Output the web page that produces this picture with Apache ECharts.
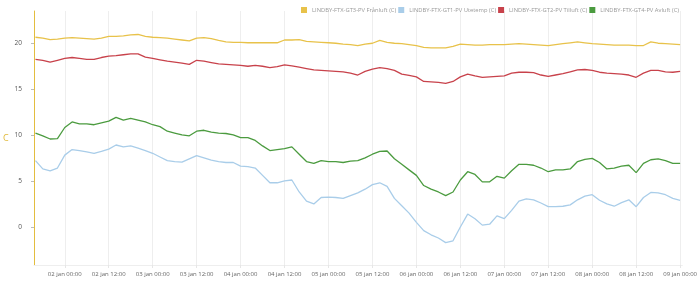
<!DOCTYPE html>
<html>
<head>
<meta charset="utf-8">
<title>LINDBY-FTX</title>
<script src="https://cdn.jsdelivr.net/npm/echarts@6/dist/echarts.min.js"></script>
<style>
  html, body { margin: 0; padding: 0; background: #fff; }
  #main { width: 700px; height: 281px; }
</style>
</head>
<body>
<div id="main"></div>
<script>
  // x = timmar från 02 jan 00:00, ett värde var 2:a timme från 01 jan 16:00 till 09 jan 00:00
  var startHour = -8;
  var stepHours = 2;

  var seriesNames = [
    'LINDBY-FTX-GT3-PV Frånluft (C)',
    'LINDBY-FTX-GT1-PV Utetemp (C)',
    'LINDBY-FTX-GT2-PV Tilluft (C)',
    'LINDBY-FTX-GT4-PV Avluft (C)'
  ];
  var seriesColors = ['#e8c24a', '#a9cde9', '#c8424b', '#4b9b3f'];

  var franluft = [
    20.6, 20.5, 20.35, 20.4, 20.5, 20.55, 20.5, 20.45, 20.4, 20.5,
    20.7, 20.7, 20.75, 20.85, 20.9, 20.7, 20.6, 20.55, 20.5, 20.4,
    20.3, 20.2, 20.5, 20.55, 20.45, 20.25, 20.1, 20.05, 20.05, 20.0,
    20.0, 20.0, 20.0, 20.0, 20.3, 20.3, 20.35, 20.15, 20.1, 20.05,
    20.0, 19.95, 19.85, 19.8, 19.7, 19.85, 19.95, 20.25, 20.05, 19.95,
    19.9, 19.8, 19.7, 19.5, 19.45, 19.45, 19.45, 19.6, 19.85, 19.8,
    19.75, 19.75, 19.8, 19.8, 19.8, 19.85, 19.9, 19.85, 19.8, 19.75,
    19.7, 19.8, 19.9, 20.0, 20.1, 20.0, 19.9, 19.85, 19.8, 19.75,
    19.75, 19.75, 19.7, 19.7, 20.1, 19.95, 19.9, 19.85, 19.8
  ];
  var utetemp = [
    7.2, 6.3, 6.1, 6.4, 7.8, 8.4, 8.3, 8.15, 8.0, 8.2,
    8.45, 8.9, 8.7, 8.8, 8.55, 8.3, 8.0, 7.6, 7.2, 7.1,
    7.05, 7.4, 7.75, 7.5, 7.25, 7.1, 7.0, 7.0, 6.6, 6.55,
    6.4, 5.6, 4.8, 4.8, 5.0, 5.1, 3.8, 2.8, 2.5, 3.2,
    3.25, 3.2, 3.1, 3.4, 3.7, 4.1, 4.6, 4.8, 4.4, 3.1,
    2.3, 1.5, 0.5, -0.4, -0.85, -1.2, -1.7, -1.5, 0.0, 1.4,
    0.9, 0.2, 0.3, 1.2, 0.9, 1.8, 2.8, 3.05, 2.95, 2.6,
    2.2, 2.2, 2.25, 2.4, 2.95, 3.35, 3.5, 2.9, 2.5, 2.25,
    2.65, 2.95, 2.2, 3.2, 3.75, 3.7, 3.5, 3.1, 2.9
  ];
  var tilluft = [
    18.2, 18.1, 17.9, 18.1, 18.3, 18.4, 18.3, 18.2, 18.2, 18.4,
    18.55, 18.6, 18.7, 18.8, 18.8, 18.45, 18.3, 18.15, 18.0, 17.9,
    17.8, 17.65, 18.1, 18.0, 17.85, 17.7, 17.65, 17.6, 17.55, 17.45,
    17.55, 17.45, 17.3, 17.4, 17.6, 17.5, 17.35, 17.2, 17.05, 17.0,
    16.95, 16.9, 16.85, 16.7, 16.5, 16.9, 17.15, 17.3, 17.2, 17.0,
    16.6, 16.45, 16.3, 15.8, 15.75, 15.7, 15.6, 15.8, 16.3, 16.6,
    16.4, 16.25, 16.3, 16.35, 16.4, 16.7, 16.8, 16.8, 16.75, 16.5,
    16.35, 16.5, 16.65, 16.85, 17.05, 17.1, 17.0, 16.8, 16.7, 16.65,
    16.6, 16.5, 16.25, 16.7, 17.0, 17.0, 16.85, 16.8, 16.9
  ];
  var avluft = [
    10.2, 9.9, 9.55, 9.6, 10.8, 11.4, 11.2, 11.2, 11.1, 11.3,
    11.5, 11.9, 11.6, 11.8, 11.6, 11.4, 11.1, 10.9, 10.4, 10.2,
    10.0, 9.9, 10.4, 10.5, 10.3, 10.2, 10.15, 10.0, 9.7, 9.7,
    9.4, 8.8, 8.3, 8.4, 8.5, 8.7, 7.9, 7.1, 6.9, 7.2,
    7.1, 7.1, 7.0, 7.15, 7.2, 7.5, 7.9, 8.2, 8.25, 7.4,
    6.8, 6.2, 5.6, 4.5, 4.1, 3.8, 3.4, 3.8, 5.1, 6.0,
    5.7, 4.9, 4.9, 5.5, 5.3, 6.1, 6.8, 6.8, 6.7, 6.4,
    6.0, 6.2, 6.2, 6.3, 7.1, 7.35, 7.45, 7.0, 6.3, 6.4,
    6.6, 6.7, 5.9, 6.9, 7.3, 7.4, 7.2, 6.9, 6.9
  ];

  // tick-etiketter var 12:e timme, 02 jan 00:00 .. 09 jan 00:00
  var xTicks = [0, 12, 24, 36, 48, 60, 72, 84, 96, 108, 120, 132, 144, 156, 168];
  var yTicks = [0, 5, 10, 15, 20];

  function pad(n) { return n < 10 ? '0' + n : '' + n; }
  function fmtHour(h) {
    var day = 2 + Math.floor(h / 24);
    var hh = ((h % 24) + 24) % 24;
    return pad(day) + ' jan ' + pad(hh) + ':00';
  }
  function toPairs(values) {
    return values.map(function (v, i) {
      return [startHour + i * stepHours, v];
    });
  }

  var allValues = [franluft, utetemp, tilluft, avluft];
  var series = seriesNames.map(function (name, i) {
    return {
      name: name,
      type: 'line',
      showSymbol: false,
      symbol: 'none',
      lineStyle: { width: 1.3, color: seriesColors[i] },
      itemStyle: { color: seriesColors[i] },
      data: toPairs(allValues[i])
    };
  });

  var myChart = echarts.init(document.getElementById('main'));
  var option = {
    animation: false,
    textStyle: { fontFamily: 'Open Sans, sans-serif' },
    legend: {
      data: seriesNames,
      right: 16,
      top: 2,
      icon: 'rect',
      itemWidth: 6,
      itemHeight: 6,
      itemGap: 2,
      textStyle: { fontSize: 5.8, color: '#999' }
    },
    grid: { left: 30, right: 17, top: 11, bottom: 16 },
    xAxis: {
      type: 'value',
      min: -8.4,
      max: 168.6,
      axisLine: { show: true, onZero: false, lineStyle: { color: '#eeeeee' } },
      axisTick: { show: true, customValues: xTicks, length: 3, lineStyle: { color: '#e6e6e6' } },
      axisLabel: {
        customValues: xTicks,
        formatter: fmtHour,
        fontSize: 6,
        color: '#666',
        margin: 6
      },
      splitLine: { show: true, lineStyle: { color: '#eeeeee', width: 1 } }
    },
    yAxis: {
      type: 'value',
      min: -4.13,
      max: 23.45,
      name: 'C',
      nameLocation: 'middle',
      nameGap: 23,
      nameRotate: 0,
      nameTextStyle: { color: '#e0b93a', fontSize: 9 },
      axisLine: { show: true, onZero: false, lineStyle: { color: '#e3bd3f', width: 1 } },
      axisTick: { show: true, customValues: yTicks, length: 3, lineStyle: { color: '#bbb' } },
      axisLabel: { customValues: yTicks, fontSize: 6.5, color: '#555', margin: 12 },
      splitLine: { show: false }
    },
    series: series
  };
  myChart.setOption(option);
</script>
</body>
</html>
